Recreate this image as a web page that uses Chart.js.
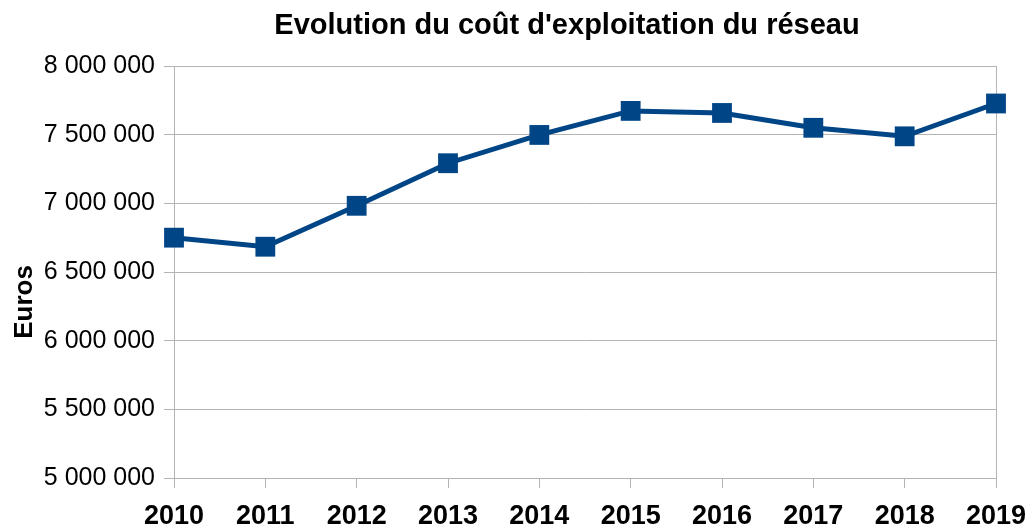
<!DOCTYPE html>
<html>
<head>
<meta charset="utf-8">
<script src="https://cdn.jsdelivr.net/npm/chart.js@4"></script>
<style>
  body { margin: 0; background: #fff; }
  #wrap { width: 1030px; height: 526px; }
</style>
</head>
<body>
<div id="wrap"><canvas id="costChart"></canvas></div>
<script>
const years = ["2010", "2011", "2012", "2013", "2014", "2015", "2016", "2017", "2018", "2019"]
const costs = [6750000, 6684000, 6982000, 7292000, 7498000, 7673000, 7658000, 7550000, 7488000, 7727000]
const yTicks = [5000000, 5500000, 6000000, 6500000, 7000000, 7500000, 8000000]

const chartTitle = "Evolution du coût d'exploitation du réseau"
const yTitle = "Euros"
const gridGray = "#b3b3b3"

// title and axis title drawn at the positions LibreOffice uses
const titles = {
    id: "titles",
    afterDraw(chart) {
        const ctx = chart.ctx
        const area = chart.chartArea
        ctx.save()
        ctx.fillStyle = "#000"
        ctx.textAlign = "center"
        ctx.textBaseline = "middle"
        ctx.font = "bold 29px 'Liberation Sans', Arial, sans-serif"
        ctx.fillText(chartTitle, (area.left + area.right) / 2 - 18, 26)
        ctx.translate(25, 302)
        ctx.rotate(-Math.PI / 2)
        ctx.font = "bold 26px 'Liberation Sans', Arial, sans-serif"
        ctx.fillText(yTitle, 0, 0)
        ctx.restore()
    }
}

const formatNumber = v => String(v).replace(/\B(?=(\d{3})+(?!\d))/g, " ")

new Chart("costChart", {
    type: "line",
    data: {
        labels: years,
        datasets: [{
            data: costs,
            borderColor: "#004586",
            backgroundColor: "#004586",
            borderWidth: 5,
            pointStyle: "rect",
            pointRadius: 14,
            pointHoverRadius: 14,
            pointBorderWidth: 0,
            tension: 0,
            fill: false,
            clip: false
        }]
    },
    options: {
        responsive: true,
        maintainAspectRatio: false,
        animation: false,
        layout: { padding: { top: 66, right: 34, left: 0, bottom: 0 } },
        plugins: {
            legend: { display: false },
            title: { display: false },
            tooltip: { enabled: false }
        },
        scales: {
            x: {
                offset: false,
                afterFit: scale => {
                    scale.height = 48
                    scale.paddingLeft = 0
                    scale.paddingRight = 0
                },
                grid: {
                    color: c => (c.index === 0 || c.index === years.length - 1) ? gridGray : "rgba(0,0,0,0)",
                    tickColor: gridGray,
                    tickLength: 10,
                    lineWidth: 1
                },
                border: { display: true, color: gridGray },
                ticks: {
                    color: "#000",
                    padding: 12,
                    maxRotation: 0,
                    autoSkip: false,
                    font: { family: "'Liberation Sans', Arial, sans-serif", size: 27, weight: "bold" }
                }
            },
            y: {
                min: yTicks[0],
                max: yTicks[yTicks.length - 1],
                afterFit: scale => {
                    scale.width = 174
                    scale.paddingTop = 0
                    scale.paddingBottom = 0
                },
                afterBuildTicks: scale => { scale.ticks = yTicks.map(v => ({ value: v })) },
                grid: {
                    color: gridGray,
                    tickColor: gridGray,
                    tickLength: 10,
                    lineWidth: 1
                },
                border: { display: true, color: gridGray },
                ticks: {
                    color: "#000",
                    padding: 9,
                    callback: v => formatNumber(v),
                    font: { family: "'Liberation Sans', Arial, sans-serif", size: 25 }
                }
            }
        }
    },
    plugins: [titles]
})
</script>
</body>
</html>
